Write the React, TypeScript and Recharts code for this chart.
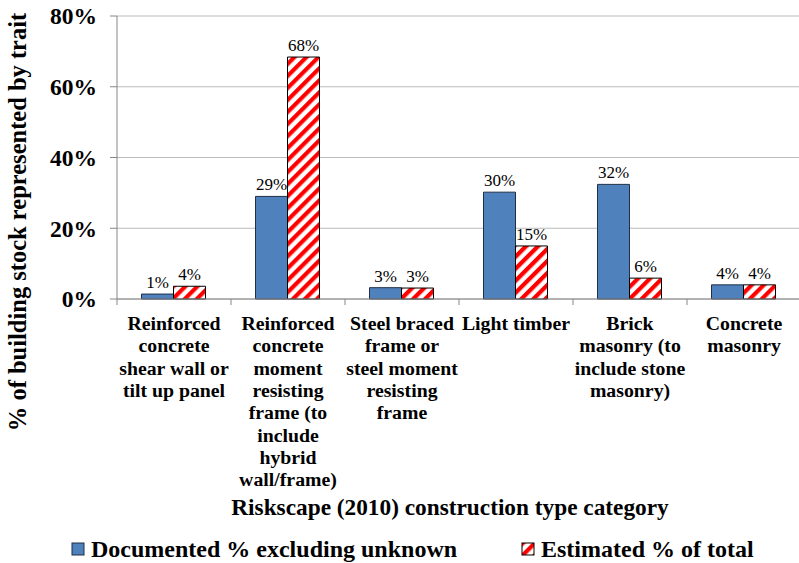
import { Bar, BarChart, CartesianGrid, LabelList, XAxis, YAxis, Label } from 'recharts'

const categories = [
  'Reinforced|concrete|shear wall or|tilt up panel',
  'Reinforced|concrete|moment|resisting|frame (to|include|hybrid|wall/frame)',
  'Steel braced|frame or|steel moment|resisting|frame',
  'Light timber',
  'Brick|masonry (to|include stone|masonry)',
  'Concrete|masonry',
]
const documented = [1.4, 29.0, 3.2, 30.2, 32.4, 4.0]
const estimated = [3.6, 68.4, 3.1, 15.0, 5.9, 4.0]
const yTicks = [0, 20, 40, 60, 80]

const SERIF = 'Liberation Serif'
const BLUE = '#4F81BD'
const RED = '#FF0000'

const data = categories.map((name, i) => ({
  name,
  documented: documented[i],
  estimated: estimated[i],
}))

const pct = (v: any) => `${Math.round(Number(v))}%`

// category names wrap on '|', with a boundary tick between categories
function CategoryTick(props: any) {
  const { x, y, payload, index } = props
  const half = payload?.offset ?? 57
  const lines = String(payload.value).split('|')
  return (
    <g>
      <line x1={x - half} x2={x - half} y1={y - 8} y2={y - 2} stroke="#868686" />
      {index === categories.length - 1 && (
        <line x1={x + half} x2={x + half} y1={y - 8} y2={y - 2} stroke="#868686" />
      )}
      <text textAnchor="middle" fontFamily={SERIF} fontWeight="bold" fontSize={19.8} fill="#000">
        {lines.map((l, i) => (
          <tspan key={i} x={x} y={y + 23 + i * 22.3}>
            {l}
          </tspan>
        ))}
      </text>
    </g>
  )
}

function LegendBox() {
  const item = (swatch: any, text: string, width: number) => (
    <div style={{ display: 'flex', alignItems: 'center', width }}>
      <svg width={14} height={14} style={{ marginRight: 6 }}>
        {swatch}
      </svg>
      <span style={{ fontFamily: SERIF, fontWeight: 'bold', fontSize: 24, color: '#000', lineHeight: '26px' }}>
        {text}
      </span>
    </div>
  )
  return (
    <div style={{ position: 'absolute', left: 71, top: 536, display: 'flex' }}>
      {item(<rect x={1} y={1} width={12} height={12} fill={BLUE} stroke="#1f2f45" />, 'Documented % excluding unknown', 450)}
      {item(<rect x={1} y={1} width={12} height={12} fill="url(#stripes)" stroke="#000" />, 'Estimated % of total', 260)}
    </div>
  )
}

export default function App() {
  return (
    <div style={{ position: 'fixed', left: 0, top: 0, width: 799, height: 563, background: '#fff' }}>
      <BarChart
        width={799}
        height={563}
        data={data}
        margin={{ top: 16, right: -2, left: 0, bottom: 0 }}
        barCategoryGap="21.5%"
        barGap={0}
      >
        <defs>
          <pattern id="stripes" width={8.5} height={8.5} patternUnits="userSpaceOnUse" patternTransform="rotate(45)">
            <rect width={8.5} height={8.5} fill="#fff" />
            <rect width={4.2} height={8.5} fill={RED} />
          </pattern>
        </defs>
        <CartesianGrid vertical={false} stroke="#BBBBBB" />
        <XAxis
          dataKey="name"
          height={264}
          axisLine={{ stroke: '#868686' }}
          tickLine={false}
          interval={0}
          tick={<CategoryTick />}
        >
          <Label
            content={() => (
              <text x={450} y={515} textAnchor="middle" fontFamily={SERIF} fontWeight="bold" fontSize={23.3} fill="#000">
                Riskscape (2010) construction type category
              </text>
            )}
          />
        </XAxis>
        <YAxis
          width={117}
          domain={[0, 80]}
          ticks={yTicks}
          tickFormatter={(v: number) => `${v}%`}
          axisLine={{ stroke: '#868686' }}
          tickLine={{ stroke: '#868686' }}
          tickSize={7}
          tickMargin={13}
          tick={{ fontFamily: SERIF, fontWeight: 'bold', fontSize: 23.5, fill: '#000' }}
        >
          <Label
            content={() => (
              <text
                x={26}
                y={222}
                transform="rotate(-90 26 222)"
                textAnchor="middle"
                fontFamily={SERIF}
                fontWeight="bold"
                fontSize={24.5}
                fill="#000"
              >
                % of building stock represented by trait
              </text>
            )}
          />
        </YAxis>
        <Bar dataKey="documented" fill={BLUE} stroke="#1f2f45" strokeWidth={1} isAnimationActive={false}>
          <LabelList
            dataKey="documented"
            position="top"
            offset={6}
            formatter={pct}
            style={{ fontFamily: SERIF, fontSize: 17, fill: '#000' }}
          />
        </Bar>
        <Bar dataKey="estimated" fill="url(#stripes)" stroke="#000" strokeWidth={1} isAnimationActive={false}>
          <LabelList
            dataKey="estimated"
            position="top"
            offset={6}
            formatter={pct}
            style={{ fontFamily: SERIF, fontSize: 17, fill: '#000' }}
          />
        </Bar>
      </BarChart>
      <LegendBox />
    </div>
  )
}
